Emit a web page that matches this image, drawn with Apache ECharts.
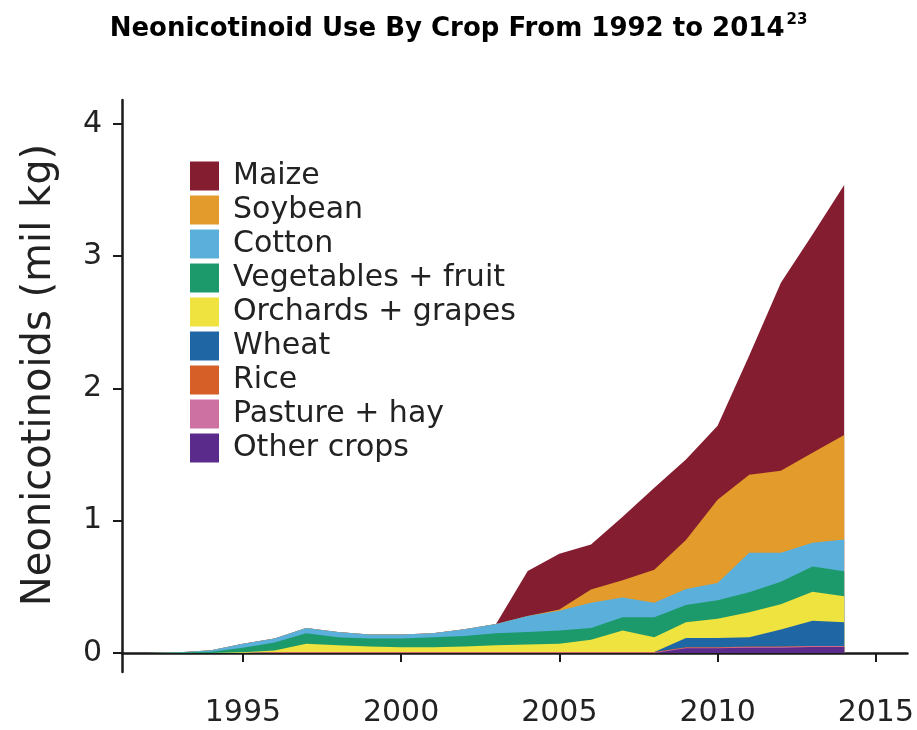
<!DOCTYPE html>
<html>
<head>
<meta charset="utf-8">
<script src="https://cdn.jsdelivr.net/npm/echarts@6/dist/echarts.min.js"></script>
<style>html,body{margin:0;padding:0;background:#fff;}#c{width:917px;height:730px;}</style>
</head>
<body>
<div id="c"></div>
<script>
const years = [1992,1993,1994,1995,1996,1997,1998,1999,2000,2001,2002,2003,2004,2005,2006,2007,2008,2009,2010,2011,2012,2013,2014];
const otherCrops = [0,0,0,0,0,0,0,0,0,0,0,0,0,0,0,0,0,0.035,0.035,0.04,0.04,0.045,0.045];
const pastureHay = [0,0,0,0,0.004,0.004,0.004,0.004,0.004,0.004,0.004,0.004,0.004,0.004,0.004,0.004,0.004,0.005,0.005,0.005,0.005,0.005,0.005];
const rice = [0,0,0,0,0.003,0.003,0.003,0.003,0.003,0.003,0.003,0.003,0.003,0.003,0.003,0.003,0.003,0.003,0.003,0.003,0.003,0.003,0.003];
const wheat = [0,0,0,0,0,0,0,0,0,0,0,0,0,0,0,0,0,0.07,0.07,0.07,0.13,0.19,0.18];
const orchards = [0,0,0,0.005,0.012,0.062,0.052,0.042,0.037,0.037,0.042,0.052,0.057,0.062,0.092,0.162,0.112,0.12,0.145,0.19,0.19,0.22,0.195];
const vegetables = [0,0.003,0.01,0.035,0.06,0.08,0.06,0.06,0.065,0.075,0.08,0.09,0.095,0.10,0.09,0.10,0.15,0.13,0.14,0.15,0.17,0.19,0.19];
const cotton = [0,0.002,0.01,0.03,0.03,0.04,0.04,0.03,0.03,0.03,0.05,0.07,0.12,0.15,0.19,0.15,0.11,0.12,0.13,0.30,0.22,0.18,0.24];
const soybean = [0,0,0,0,0,0,0,0,0,0,0,0,0,0.01,0.10,0.13,0.25,0.37,0.63,0.59,0.62,0.68,0.79];
const maize = [0,0,0,0,0,0,0,0,0,0,0,0,0.34,0.42,0.34,0.48,0.62,0.61,0.56,0.90,1.42,1.65,1.89];

const xTicks = [1995,2000,2005,2010,2015];
const yTicks = [0,1,2,3,4];

// bottom to top stacking order
const layers = [
  {name:'Other crops', values: otherCrops, color:'#5b2b8c'},
  {name:'Pasture + hay', values: pastureHay, color:'#cc71a2'},
  {name:'Rice', values: rice, color:'#d55f27'},
  {name:'Wheat', values: wheat, color:'#1f66a5'},
  {name:'Orchards + grapes', values: orchards, color:'#efe33f'},
  {name:'Vegetables + fruit', values: vegetables, color:'#1d9a6c'},
  {name:'Cotton', values: cotton, color:'#5ab0da'},
  {name:'Soybean', values: soybean, color:'#e39b2c'},
  {name:'Maize', values: maize, color:'#851d30'}
];

// cumulative tops (stack computed from the arrays)
const running = years.map(()=>0);
layers.forEach(l=>{
  l.top = l.values.map((v,i)=> (running[i] += v));
});

const chart = echarts.init(document.getElementById('c'), null, {renderer:'canvas'});
const axisColor = '#1a1a1a';
const labelFont = {fontFamily:'DejaVu Sans', fontSize:30, color:'#222'};

// draw top layer first so lower layers paint over it
const drawOrder = layers.slice().reverse();

chart.setOption({
  animation:false,
  backgroundColor:'#fff',
  title:{
    left:'center', top:8,
    text:'{m|Neonicotinoid Use By Crop From 1992 to 2014}{s|23}',
    textStyle:{
      rich:{
        m:{fontFamily:'DejaVu Sans', fontWeight:'bold', fontSize:26, color:'#000', lineHeight:32},
        s:{fontFamily:'DejaVu Sans', fontWeight:'bold', fontSize:15, color:'#000', verticalAlign:'top', lineHeight:32, padding:[0,0,14,2]}
      }
    }
  },
  legend:{
    orient:'vertical', left:190, top:161, padding:0,
    icon:'rect', itemWidth:29, itemHeight:29, itemGap:4,
    data: drawOrder.map(l=>l.name),
    textStyle:{fontFamily:'DejaVu Sans', fontSize:30, color:'#222', lineHeight:29, padding:[0,0,0,9]},
    selectedMode:false
  },
  grid:{left:122, right:9, top:100, bottom:58, containLabel:false},
  xAxis:{
    type:'value', min:1991.18, max:2016.0,
    axisLine:{show:true, lineStyle:{color:axisColor, width:2.5}},
    axisTick:{show:true, length:9, lineStyle:{color:axisColor, width:2}, customValues:xTicks},
    axisLabel:{...labelFont, margin:26, customValues:xTicks, formatter:v=>String(v)},
    splitLine:{show:false}
  },
  yAxis:{
    type:'value', min:-0.144, max:4.18,
    name:'Neonicotinoids (mil kg)', nameLocation:'middle', nameGap:62,
    nameTextStyle:{fontFamily:'DejaVu Sans', fontSize:40, color:'#222', padding:[0,0,0,22]},
    axisLine:{show:true, lineStyle:{color:axisColor, width:2.5}},
    axisTick:{show:true, length:9, lineStyle:{color:axisColor, width:2}, customValues:yTicks},
    axisLabel:{...labelFont, margin:20, customValues:yTicks, formatter:v=>String(v)},
    splitLine:{show:false}
  },
  series: drawOrder.map(l=>({
    name:l.name, type:'line',
    data: years.map((y,i)=>[y, l.top[i]]),
    showSymbol:false, symbol:'none',
    lineStyle:{width:0, color:l.color},
    itemStyle:{color:l.color},
    areaStyle:{color:l.color, opacity:1, origin:0},
    emphasis:{disabled:true}
  }))
});
</script>
</body>
</html>
